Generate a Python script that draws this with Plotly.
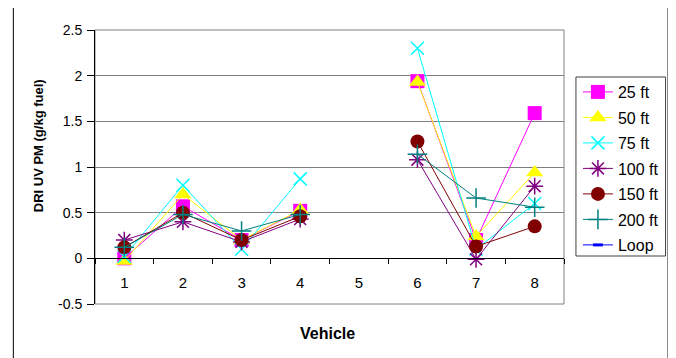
import plotly.graph_objects as go

vehicles = ["1", "2", "3", "4", "5", "6", "7", "8"]
ft25 = [0.0, 0.57, 0.2, 0.52, None, 1.94, 0.2, 1.59]
ft50 = [-0.03, 0.7, 0.2, 0.53, None, 1.93, 0.24, 0.94]
ft75 = [0.02, 0.8, 0.1, 0.87, None, 2.3, 0.1, 0.6]
ft100 = [0.2, 0.4, 0.18, 0.43, None, 1.08, -0.01, 0.79]
ft150 = [0.12, 0.5, 0.2, 0.46, None, 1.28, 0.13, 0.35]
ft200 = [0.12, 0.48, 0.3, 0.48, None, 1.14, 0.66, 0.56]
loop = [None, None, None, None, None, None, None, None]

y_ticks = [-0.5, 0, 0.5, 1, 1.5, 2, 2.5]
y_tick_text = ["-0.5", "0", "0.5", "1", "1.5", "2", "2.5"]

FONT = "Liberation Sans, Arial, sans-serif"

series = [
    ("25 ft", ft25, "#FF00FF", dict(symbol="square", size=14, color="#FF00FF")),
    ("50 ft", ft50, "#FFFF00", dict(symbol="triangle-up", size=15, color="#FFFF00")),
    ("75 ft", ft75, "#00FFFF", dict(symbol="x-thin-open", size=13, color="#00FFFF",
                                    line=dict(color="#00FFFF", width=1.5))),
    ("100 ft", ft100, "#800080", dict(symbol="asterisk-open", size=14, color="#800080",
                                      line=dict(color="#800080", width=1.5))),
    ("150 ft", ft150, "#800000", dict(symbol="circle", size=14, color="#800000")),
    ("200 ft", ft200, "#008080", dict(symbol="cross-thin-open", size=14, color="#008080",
                                      line=dict(color="#008080", width=1.5))),
    ("Loop", loop, "#0000FF", dict(symbol="line-ew-open", size=7, color="#0000FF",
                                   line=dict(color="#0000FF", width=3))),
]

fig = go.Figure()
for name, vals, col, mk in series:
    fig.add_trace(go.Scatter(
        x=vehicles, y=vals, name=name, mode="lines+markers",
        line=dict(color=col, width=1), marker=mk, connectgaps=False,
        legendgroup=name,
    ))

y_min, y_max = -0.5, 2.5


def px_x(p):
    return (p - 95) / 471


def px_y(p):
    return (304 - p) / 274


fig.update_layout(
    width=668, height=350,
    margin=dict(l=87, r=110, t=22, b=54),
    paper_bgcolor="white", plot_bgcolor="white",
    font=dict(family=FONT, color="black", size=14),
    showlegend=True,
    legend=dict(x=px_x(580), y=px_y(75), xanchor="left", yanchor="top",
                borderwidth=0, bgcolor="rgba(0,0,0,0)",
                font=dict(family=FONT, size=16, color="black"),
                tracegroupgap=1.7, itemwidth=30),
    xaxis=dict(type="category", range=[-0.5, 7.5], anchor="free",
               position=(0 - y_min) / (y_max - y_min),
               showline=True, linecolor="black", linewidth=1,
               ticks="outside", tickson="boundaries", ticklen=5, tickcolor="black",
               showgrid=False, tickfont=dict(size=15), ticklabelstandoff=11),
    yaxis=dict(range=[y_min, y_max], tickvals=y_ticks, ticktext=y_tick_text,
               showline=True, linecolor="black", linewidth=1,
               ticks="outside", ticklen=7, tickcolor="black",
               showgrid=True, gridcolor="#808080", gridwidth=1, zeroline=False,
               tickfont=dict(size=14), ticklabelstandoff=2),
    shapes=[
        dict(type="rect", xref="paper", yref="paper", x0=0, x1=1, y0=0, y1=1,
             line=dict(color="#808080", width=1), layer="below"),
        dict(type="rect", xref="paper", yref="paper", x0=px_x(578), x1=px_x(668),
             y0=px_y(256), y1=px_y(77), line=dict(color="#404040", width=1)),
        dict(type="line", xref="paper", yref="paper", x0=px_x(13), x1=px_x(13),
             y0=px_y(372), y1=px_y(6), line=dict(color="black", width=1)),
        dict(type="line", xref="paper", yref="paper", x0=px_x(13), x1=px_x(671),
             y0=px_y(6), y1=px_y(6), line=dict(color="black", width=1)),
        dict(type="line", xref="paper", yref="paper", x0=px_x(671), x1=px_x(671),
             y0=px_y(372), y1=px_y(6), line=dict(color="black", width=2)),
    ],
    annotations=[
        dict(text="<b>DRI UV PM (g/kg fuel)</b>", textangle=-90, xref="paper", yref="paper",
             x=px_x(38), y=px_y(146), xanchor="center", yanchor="middle",
             showarrow=False, font=dict(size=13, family=FONT)),
        dict(text="<b>Vehicle</b>", xref="paper", yref="paper",
             x=px_x(328), y=px_y(333), xanchor="center", yanchor="middle",
             showarrow=False, font=dict(size=16, family=FONT)),
    ],
)

fig.write_html("out.html")
